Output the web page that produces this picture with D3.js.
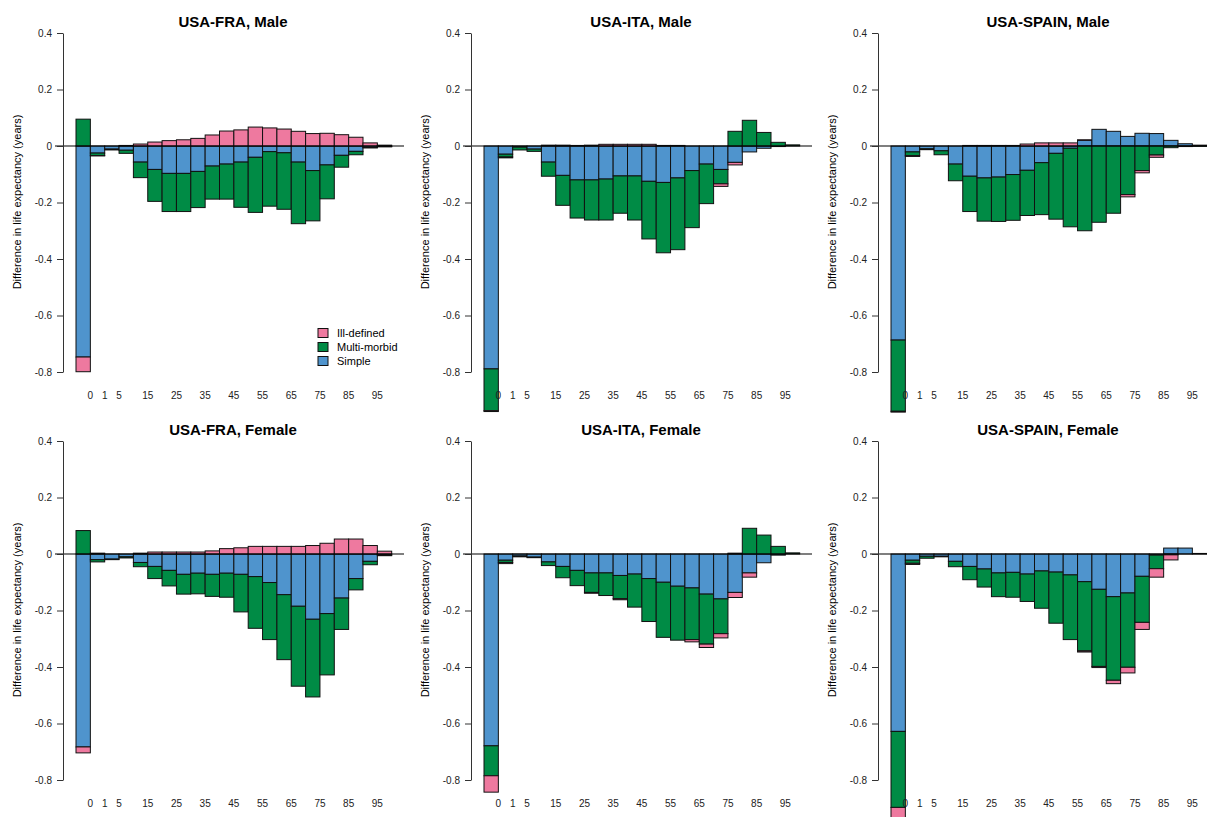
<!DOCTYPE html>
<html>
<head>
<meta charset="utf-8">
<script src="https://cdn.jsdelivr.net/npm/d3@7"></script>
<style>
  body { margin: 0; background: #fff; }
  text { font-family: "Liberation Sans", Arial, sans-serif; }
</style>
</head>
<body>
<div id="chart"></div>
<script>
// age groups, one bar each
var ages = ['0','1','5','10','15','20','25','30','35','40','45','50','55','60','65','70','75','80','85','90','95','100'];
var tickAges = ['0','1','5','15','25','35','45','55','65','75','85','95'];
var yTicks = [0.4, 0.2, 0, -0.2, -0.4, -0.6, -0.8];
var causes = ['Simple', 'Multi-morbid', 'Ill-defined'];
var legendItems = ['Ill-defined', 'Multi-morbid', 'Simple'];
var titles = ['USA-FRA, Male', 'USA-ITA, Male', 'USA-SPAIN, Male',
              'USA-FRA, Female', 'USA-ITA, Female', 'USA-SPAIN, Female'];

var fraMaleSimple = [-0.747,-0.025,-0.011,-0.015,-0.057,-0.083,-0.097,-0.097,-0.090,-0.071,-0.064,-0.057,-0.040,-0.020,-0.024,-0.057,-0.087,-0.067,-0.033,-0.019,-0.005,-0.002];
var fraMaleMulti  = [0.095,-0.009,-0.003,-0.011,-0.055,-0.113,-0.135,-0.135,-0.128,-0.117,-0.124,-0.160,-0.195,-0.193,-0.200,-0.218,-0.178,-0.120,-0.042,-0.012,-0.002,-0.001];
var fraMaleIll    = [-0.052,-0.001,0,0.002,0.007,0.014,0.019,0.022,0.027,0.039,0.053,0.057,0.067,0.064,0.060,0.052,0.044,0.045,0.040,0.031,0.011,0.003];

var itaMaleSimple = [-0.789,-0.029,-0.004,-0.011,-0.057,-0.104,-0.120,-0.120,-0.117,-0.106,-0.106,-0.125,-0.129,-0.113,-0.087,-0.064,-0.083,-0.058,-0.021,-0.008,-0.002,0];
var itaMaleMulti  = [-0.148,-0.010,-0.010,-0.008,-0.050,-0.106,-0.135,-0.142,-0.145,-0.132,-0.156,-0.204,-0.249,-0.254,-0.202,-0.140,-0.051,0.052,0.091,0.048,0.013,0.004];
var itaMaleIll    = [-0.003,-0.003,0,0,0.003,0.003,0.002,0.003,0.006,0.006,0.006,0.006,0.002,0.002,0,0,-0.009,-0.009,0,0,0,0];

var espMaleSimple = [-0.687,-0.021,-0.010,-0.017,-0.064,-0.107,-0.113,-0.110,-0.101,-0.086,-0.059,-0.026,-0.008,0.020,0.059,0.052,0.034,0.045,0.044,0.020,0.008,0.003];
var espMaleMulti  = [-0.252,-0.013,-0.003,-0.014,-0.059,-0.125,-0.153,-0.157,-0.162,-0.160,-0.184,-0.233,-0.278,-0.300,-0.270,-0.238,-0.172,-0.087,-0.032,-0.006,-0.002,-0.001];
var espMaleIll    = [-0.003,-0.003,0,0,0,0.002,0.002,0.002,0.002,0.007,0.011,0.011,0.011,0.002,0,0,-0.008,-0.008,-0.008,0,0,0];

var fraFemaleSimple = [-0.683,-0.020,-0.018,-0.010,-0.030,-0.044,-0.058,-0.072,-0.068,-0.072,-0.068,-0.072,-0.080,-0.101,-0.144,-0.185,-0.231,-0.211,-0.156,-0.087,-0.026,-0.004];
var fraFemaleMulti  = [0.083,-0.008,-0.002,-0.004,-0.015,-0.043,-0.055,-0.070,-0.073,-0.078,-0.085,-0.133,-0.183,-0.202,-0.230,-0.283,-0.275,-0.217,-0.111,-0.040,-0.012,-0.002];
var fraFemaleIll    = [-0.021,0.003,0,0,0.003,0.007,0.007,0.007,0.007,0.011,0.019,0.022,0.027,0.027,0.027,0.027,0.030,0.038,0.053,0.053,0.030,0.010];

var itaFemaleSimple = [-0.679,-0.022,-0.007,-0.011,-0.028,-0.044,-0.058,-0.067,-0.067,-0.076,-0.071,-0.087,-0.100,-0.114,-0.120,-0.142,-0.159,-0.136,-0.067,-0.031,-0.004,0];
var itaFemaleMulti  = [-0.106,-0.008,-0.003,-0.002,-0.013,-0.040,-0.054,-0.069,-0.080,-0.082,-0.117,-0.152,-0.195,-0.191,-0.183,-0.177,-0.123,0.003,0.091,0.067,0.027,0.004];
var itaFemaleIll    = [-0.058,-0.004,0,0,0,0,0,-0.003,0,-0.004,0,0,0,0,-0.008,-0.012,-0.015,-0.018,-0.015,0,0,0];

var espFemaleSimple = [-0.628,-0.022,-0.008,-0.008,-0.026,-0.044,-0.053,-0.067,-0.065,-0.071,-0.060,-0.064,-0.074,-0.098,-0.125,-0.151,-0.138,-0.079,-0.004,0.021,0.021,0.002];
var espFemaleMulti  = [-0.269,-0.011,-0.007,-0.002,-0.019,-0.047,-0.064,-0.084,-0.088,-0.097,-0.132,-0.181,-0.229,-0.245,-0.273,-0.296,-0.263,-0.163,-0.048,-0.003,0,0];
var espFemaleIll    = [-0.040,-0.004,0,0,0,0,0,0,0,0,0,0,0,-0.004,-0.004,-0.012,-0.020,-0.025,-0.030,-0.018,0,0];

var width = 1207, height = 817;
var color = d3.scaleOrdinal().domain(causes).range(['#4F94CD', '#008B45', '#EE799F']);

var panels = [
  [fraMaleSimple, fraMaleMulti, fraMaleIll],
  [itaMaleSimple, itaMaleMulti, itaMaleIll],
  [espMaleSimple, espMaleMulti, espMaleIll],
  [fraFemaleSimple, fraFemaleMulti, fraFemaleIll],
  [itaFemaleSimple, itaFemaleMulti, itaFemaleIll],
  [espFemaleSimple, espFemaleMulti, espFemaleIll]
];
var colX = [0, 408, 815];
var rowY = [0, 408];

var svg = d3.select('#chart').append('svg')
  .attr('width', width)
  .attr('height', height);

panels.forEach(function(series, p) {
  var ox = colX[p % 3], oy = rowY[Math.floor(p / 3)];
  var g = svg.append('g').attr('transform', 'translate(' + ox + ',' + oy + ')');

  var x = d3.scaleBand().domain(ages).range([76, 391.7]).padding(0);
  var y = d3.scaleLinear().domain([-0.8, 0.4]).range([372, 33]);

  // stack positives upward and negatives downward, in cause order
  var rects = [];
  ages.forEach(function(a, i) {
    var pos = 0, neg = 0;
    causes.forEach(function(c, k) {
      var v = series[k][i];
      if (!v) return;
      var y0, y1;
      if (v > 0) { y0 = pos; y1 = pos + v; pos = y1; }
      else { y0 = neg; y1 = neg + v; neg = y1; }
      rects.push({age: a, cause: c, y0: y0, y1: y1});
    });
  });

  g.selectAll('rect.bar')
    .data(rects)
    .enter().append('rect')
    .attr('class', 'bar')
    .attr('x', function(d) { return x(d.age); })
    .attr('width', x.bandwidth())
    .attr('y', function(d) { return y(Math.max(d.y0, d.y1)); })
    .attr('height', function(d) { return Math.abs(y(d.y0) - y(d.y1)); })
    .style('fill', function(d) { return color(d.cause); })
    .style('stroke', '#111')
    .style('stroke-width', 1);

  // zero line
  g.append('line')
    .attr('x1', 55).attr('x2', 404)
    .attr('y1', y(0)).attr('y2', y(0))
    .style('stroke', '#000')
    .style('stroke-width', 1.2);

  // y axis
  var yAxis = g.append('g')
    .attr('transform', 'translate(63,0)')
    .call(d3.axisLeft(y).tickValues(yTicks).tickSize(6).tickSizeOuter(0).tickPadding(5)
      .tickFormat(function(d) { return String(d); }));
  yAxis.selectAll('path, line').style('stroke', '#333');
  yAxis.selectAll('text').style('font-size', '10px').style('fill', '#222')
    .style('font-family', '"Liberation Sans", Arial, sans-serif');

  // x labels at right edge of each labelled bar
  g.selectAll('text.xlab')
    .data(tickAges)
    .enter().append('text')
    .attr('class', 'xlab')
    .attr('x', function(d) { return x(d) + x.bandwidth(); })
    .attr('y', 399)
    .attr('text-anchor', 'middle')
    .style('font-size', '10px')
    .style('fill', '#222')
    .text(function(d) { return d; });

  g.append('text')
    .attr('x', 233).attr('y', 27)
    .attr('text-anchor', 'middle')
    .style('font-size', '15px')
    .style('font-weight', 'bold')
    .text(titles[p]);

  g.append('text')
    .attr('transform', 'translate(21,202) rotate(-90)')
    .attr('text-anchor', 'middle')
    .style('font-size', '11px')
    .text('Difference in life expectancy (years)');

  if (p === 0) {
    var lg = g.selectAll('g.legend')
      .data(legendItems)
      .enter().append('g')
      .attr('class', 'legend')
      .attr('transform', function(d, i) { return 'translate(318,' + (333 + i * 14) + ')'; });
    lg.append('rect')
      .attr('x', 0).attr('y', -4.5)
      .attr('width', 10).attr('height', 9)
      .style('fill', function(d) { return color(d); })
      .style('stroke', '#111');
    lg.append('text')
      .attr('x', 19).attr('y', 4)
      .style('font-size', '11px')
      .text(function(d) { return d; });
  }
});
</script>
</body>
</html>
